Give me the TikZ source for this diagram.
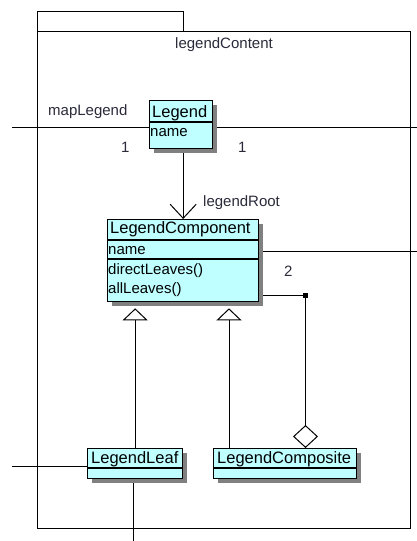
\documentclass[tikz,border=0pt]{standalone}
\usepackage{fontspec}
\setmainfont{Liberation Sans}
\usetikzlibrary{arrows.meta,calc,shadows,backgrounds}

\definecolor{umlfill}{HTML}{C0FFFF}
\definecolor{umlshadow}{HTML}{808080}
\definecolor{labelink}{HTML}{2A2A3A}

\begin{document}
\begin{tikzpicture}[x=1pt,y=1pt,
  classbox/.style={draw=black, line width=1.3pt, fill=umlfill, inner sep=0pt,
    anchor=north west,
    drop shadow={shadow xshift=4pt, shadow yshift=-4pt, fill=umlshadow, opacity=1}},
  divider/.style={draw=black, line width=1.1pt},
  pkgbox/.style={draw=black, line width=1.2pt, inner sep=0pt, anchor=north west},
  conn/.style={draw=black, line width=1pt},
  headtext/.style={inner sep=0pt, anchor=base west, font=\fontsize{16.5}{18}\selectfont},
  bodytext/.style={inner sep=0pt, anchor=base west, font=\fontsize{15}{17}\selectfont},
  lbl/.style={inner sep=0pt, anchor=base west, text=labelink, font=\fontsize{15}{17}\selectfont},
  cornerdot/.style={fill=black, inner sep=0pt, minimum size=5pt},
  navarrow/.style={-{Straight Barb[length=14pt,width=26pt,line width=1pt]}},
  genarrow/.style={-{Triangle[open,fill=white,length=12pt,width=25pt,line width=1pt]}, shorten >=6pt},
  aggarrow/.style={-{Diamond[open,fill=white,length=23pt,width=25pt,line width=1pt]}}
]
\useasboundingbox (0,0) rectangle (417,-541);

% classes
\node[classbox, minimum width=63, minimum height=48] (legend) at (149,-100) {};
\node[classbox, minimum width=151, minimum height=82] (component) at (107,-219) {};
\node[classbox, minimum width=95, minimum height=30] (leaf) at (87,-448) {};
\node[classbox, minimum width=143, minimum height=30] (composite) at (213,-448) {};

% compartments
\draw[divider] ($(legend.north west)+(0,-22)$) -- ($(legend.north east)+(0,-22)$);
\draw[divider] ($(component.north west)+(0,-21)$) -- ($(component.north east)+(0,-21)$);
\draw[divider] ($(component.north west)+(0,-40)$) -- ($(component.north east)+(0,-40)$);
\draw[divider] ($(leaf.north west)+(0,-20)$) -- ($(leaf.north east)+(0,-20)$);
\draw[divider] ($(composite.north west)+(0,-20)$) -- ($(composite.north east)+(0,-20)$);

% class texts
\node[headtext] (tLegend) at (152,-117) {Legend};
\node[bodytext] (tLegendName) at (150,-136) {name};
\node[headtext] (tComp) at (110,-233) {LegendComponent};
\node[bodytext] (tCompName) at (108,-254) {name};
\node[bodytext] (tCompOp1) at (108,-274) {directLeaves()};
\node[bodytext] (tCompOp2) at (108,-293) {allLeaves()};
\node[headtext] (tLeaf) at (91,-463) {LegendLeaf};
\node[headtext] (tComposite) at (217,-463) {LegendComposite};

% labels
\node[lbl, anchor=base] (pkgname) at (224,-48) {legendContent};
\node[lbl] (roleMap) at (48,-115) {mapLegend};
\node[lbl] (multL) at (121,-152) {1};
\node[lbl] (multR) at (238,-152) {1};
\node[lbl] (roleRoot) at (203,-206) {legendRoot};
\node[lbl] (multTwo) at (284,-276) {2};

\begin{pgfonlayer}{background}
  % package
  \node[pkgbox, minimum width=146, minimum height=20] (pkgtab) at (37,-11) {};
  \node[pkgbox, minimum width=373, minimum height=497] (pkgbody) at (37,-31) {};

  % free ends of outside connectors
  \coordinate (edgeL1) at (12,-127);
  \coordinate (edgeR1) at (417,-127);
  \coordinate (edgeR2) at (417,-251);
  \coordinate (edgeL2) at (12,-466);
  \coordinate (edgeB) at (133,-541);

  \draw[conn] (edgeL1) -- (edgeL1 -| legend.west);
  \draw[conn] (edgeR1 -| legend.east) -- (edgeR1);
  \draw[conn] (edgeR2 -| component.east) -- (edgeR2);
  \draw[conn] (edgeL2) -- (edgeL2 -| leaf.west);
  \draw[conn] (edgeB |- leaf.south) -- (edgeB);

  % navigable association
  \draw[conn, navarrow] (legend.south -| component.north) -- (component.north);

  % generalizations
  \draw[conn, genarrow] (leaf.north) -- (leaf.north |- component.south);
  \coordinate (g2) at ($(composite.north west)+(16,0)$);
  \draw[conn, genarrow] (g2) -- (g2 |- component.south);

  % aggregation
  \coordinate (aggA) at ($(component.north east)+(0,-76)$);
  \coordinate (aggB) at ($(composite.north west)+(92.5,0)$);
  \draw[conn, aggarrow] (aggA) -| (aggB);
\end{pgfonlayer}
\node[cornerdot] (aggcorner) at (aggA -| aggB) {};
\end{tikzpicture}
\end{document}
